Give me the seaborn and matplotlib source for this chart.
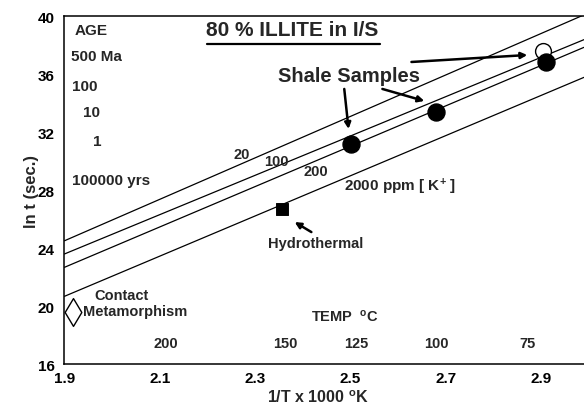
import matplotlib
matplotlib.use("Agg")
import matplotlib.pyplot as plt
import seaborn as sns
import pandas as pd

# K-Ar kinetic lines for 80% illite in I/S, one per potassium concentration
ppm_labels = ["20", "100", "200", "2000"]
line_x = [1.90, 2.99]
line_y_start = [24.52, 23.61, 22.69, 20.69]
line_y_end = [40.10, 38.39, 37.86, 35.79]

# Observed samples
shale_x = [2.501, 2.679, 2.910]
shale_y = [31.19, 33.38, 36.87]
shale_open_x = [2.905]
shale_open_y = [37.59]
hydro_x = [2.357]
hydro_y = [26.71]
contact_x = [1.918]
contact_y = [19.59]

# Age scale and temperature scale annotations
age_labels = ["500 Ma", "100", "10", "1", "100000 yrs"]
age_x = [1.913, 1.916, 1.938, 1.960, 1.916]
age_y = [37.24, 35.21, 33.38, 31.42, 28.73]
temp_c = [200, 150, 125, 100, 75]

x_ticks = [1.9, 2.1, 2.3, 2.5, 2.7, 2.9]
y_ticks = [16, 20, 24, 28, 32, 36, 40]

sns.set_style("white")
plt.rcParams["font.family"] = ["Liberation Sans", "DejaVu Sans"]
plt.rcParams["mathtext.fontset"] = "custom"
plt.rcParams["mathtext.rm"] = "Liberation Sans:bold"
plt.rcParams["mathtext.default"] = "rm"

rows = []
for lab, y0, y1 in zip(ppm_labels, line_y_start, line_y_end):
    rows.append({"x": line_x[0], "y": y0, "ppm": lab})
    rows.append({"x": line_x[1], "y": y1, "ppm": lab})
lines_df = pd.DataFrame(rows)

fig = plt.figure(figsize=(5.84, 4.06), dpi=100)
ax = fig.add_axes([0.1104, 0.1002, 0.8896, 0.8572])

sns.lineplot(data=lines_df, x="x", y="y", units="ppm", estimator=None,
             color="black", lw=0.9, ax=ax, legend=False)

sns.scatterplot(x=shale_x, y=shale_y, s=150, color="black", edgecolor="black",
                marker="o", ax=ax, zorder=5)
sns.scatterplot(x=shale_open_x, y=shale_open_y, s=130, facecolor="white",
                edgecolor="black", linewidth=1.0, marker="o", ax=ax, zorder=4)
sns.scatterplot(x=hydro_x, y=hydro_y, s=70, color="black", edgecolor="black",
                marker="s", ax=ax, zorder=5)
sns.scatterplot(x=contact_x, y=contact_y, s=200, facecolor="white",
                edgecolor="black", linewidth=1.0, marker="d", ax=ax, zorder=5)

ax.set_xlim(1.9, 2.99)
ax.set_ylim(16, 40)
ax.set_xticks(x_ticks)
ax.set_yticks(y_ticks)
ax.set_xticklabels([f"{v:.1f}" for v in x_ticks], fontsize=11, fontweight="bold")
ax.set_yticklabels([str(v) for v in y_ticks], fontsize=11, fontweight="bold")
ax.tick_params(direction="in", length=5, width=0.9, colors="black")
ax.tick_params(axis="x", pad=5)
ax.tick_params(axis="y", pad=7)
for side in ["left", "bottom", "top"]:
    ax.spines[side].set_color("black")
    ax.spines[side].set_linewidth(1.1)
ax.spines["right"].set_visible(False)

ax.set_xlabel("1/T x 1000 $^{\\mathrm{o}}$K", fontsize=11.5, fontweight="bold")
ax.xaxis.set_label_coords(0.487, -0.092)
ax.xaxis.label.set_va("center")
ax.set_ylabel("ln t (sec.)", fontsize=12, fontweight="bold", labelpad=-1)

# Title with underline
ax.text(2.378, 39.06, "80 % ILLITE in I/S", fontsize=15, ha="center",
        va="center", fontweight="bold")
ax.plot([2.199, 2.561], [38.1, 38.1], color="black", lw=1.6)

# Age column
ax.text(1.922, 39.08, "AGE", fontsize=11, ha="left", va="center", fontweight="bold")
for lab, x, y in zip(age_labels, age_x, age_y):
    ax.text(x, y, lab, fontsize=11, ha="left", va="center", fontweight="bold")

# Line labels
bold = dict(fontsize=10.5, va="center", fontweight="bold")
ax.text(2.271, 30.48, "20", ha="center", **bold)
ax.text(2.345, 30.04, "100", ha="center", **bold)
ax.text(2.427, 29.35, "200", ha="center", **bold)
ax.text(2.487, 28.32, "2000 ppm [ K$^{+}$ ]", ha="left", fontsize=11,
        va="center", fontweight="bold")

# Temperature scale
ax.text(2.418, 19.35, "TEMP  $^{\\mathrm{o}}$C", ha="left", **bold)
for t in temp_c:
    ax.text(1000.0 / (t + 273.15), 17.47, str(t), ha="center", **bold)

# Sample annotations
ax.text(2.498, 35.95, "Shale Samples", fontsize=14.5, ha="center", va="center",
        fontweight="bold")
arrow = dict(arrowstyle="-|>", lw=1.8, color="black", mutation_scale=9,
             shrinkA=0, shrinkB=0)
ax.annotate("", xy=(2.496, 32.23), xytext=(2.487, 34.99), arrowprops=arrow)
ax.annotate("", xy=(2.655, 34.16), xytext=(2.567, 34.99), arrowprops=arrow)
ax.annotate("", xy=(2.871, 37.33), xytext=(2.628, 36.85), arrowprops=arrow)

ax.text(2.327, 24.34, "Hydrothermal", ha="left", **bold)
ax.annotate("", xy=(2.383, 25.81), xytext=(2.418, 25.12), arrowprops=arrow)

ax.text(1.962, 20.80, "Contact", ha="left", **bold)
ax.text(1.938, 19.66, "Metamorphism", ha="left", **bold)

fig.savefig("out.png", dpi=100)
